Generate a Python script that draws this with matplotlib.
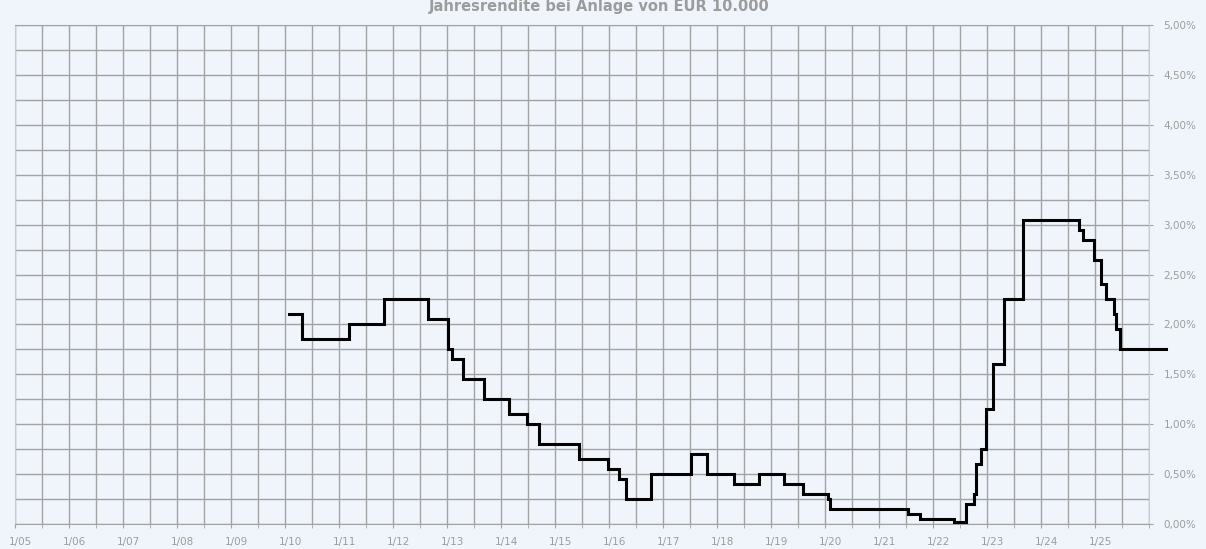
import matplotlib
matplotlib.use("Agg")
import matplotlib.pyplot as plt
import matplotlib.transforms as mtransforms
import numpy as np

# Step change dates (fractional years) and yield values (%)
change_years = [2010.07, 2010.32, 2011.19, 2011.84, 2012.65, 2013.01, 2013.10, 2013.29,
                2013.69, 2014.15, 2014.48, 2014.70, 2015.45, 2015.99, 2016.19, 2016.31,
                2016.77, 2017.52, 2017.81, 2018.31, 2018.78, 2019.24, 2019.60, 2020.06,
                2020.09, 2021.53, 2021.76, 2022.38, 2022.61, 2022.76, 2022.79, 2022.88,
                2022.99, 2023.11, 2023.31, 2023.67, 2024.70, 2024.78, 2024.98, 2025.12,
                2025.21, 2025.35, 2025.38, 2025.47, 2026.31]
yield_pct = [2.10, 1.85, 2.00, 2.25, 2.05, 1.75, 1.65, 1.45,
             1.25, 1.10, 1.00, 0.80, 0.65, 0.55, 0.45, 0.25,
             0.50, 0.70, 0.50, 0.40, 0.50, 0.40, 0.30, 0.25,
             0.15, 0.10, 0.05, 0.02, 0.20, 0.30, 0.60, 0.75,
             1.15, 1.60, 2.25, 3.05, 2.95, 2.85, 2.65, 2.40,
             2.25, 2.10, 1.95, 1.75, 1.75]

year_ticks = list(range(2005, 2026))
year_labels = ["1/%02d" % (y % 100) for y in year_ticks]
pct_ticks = [0.0, 0.5, 1.0, 1.5, 2.0, 2.5, 3.0, 3.5, 4.0, 4.5, 5.0]
pct_labels = ["0,00%", "0,50%", "1,00%", "1,50%", "2,00%", "2,50%",
              "3,00%", "3,50%", "4,00%", "4,50%", "5,00%"]
title = "Jahresrendite bei Anlage von EUR 10.000"

bg = "#F0F5FC"
grid_c = "#A3A3A3"
text_c = "#9C9C9C"

fig = plt.figure(figsize=(12.06, 5.49), dpi=100, facecolor=bg)
ax = fig.add_axes([15/1206, 25/549, (1149-15)/1206, (524-25)/549])
ax.set_facecolor(bg)

ax.step(change_years, yield_pct, where="post", color="black", lw=2.2,
        clip_on=False, zorder=5, solid_joinstyle="miter")

ax.set_xlim(2005, 2026)
ax.set_ylim(0, 5)

ax.set_xticks(year_ticks)
ax.set_xticklabels(year_labels)
ax.set_xticks(np.arange(2005.5, 2026.01, 0.5), minor=True)
ax.yaxis.tick_right()
ax.set_yticks(pct_ticks)
ax.set_yticklabels(pct_labels)
ax.set_yticks(np.arange(0.25, 5.0, 0.5), minor=True)

ax.grid(True, which="both", color=grid_c, lw=1.0)
ax.set_axisbelow(True)

ax.tick_params(axis="x", which="both", direction="out", length=3, color=grid_c,
               labelsize=7.5, labelcolor=text_c, pad=6.5)
ax.tick_params(axis="y", which="major", direction="out", length=3, color=grid_c,
               labelsize=7.5, labelcolor=text_c, pad=7.5)
ax.tick_params(axis="y", which="minor", length=0)

shift = mtransforms.ScaledTranslation(5/100, 0, fig.dpi_scale_trans)
for lab in ax.get_xticklabels():
    lab.set_transform(lab.get_transform() + shift)

ax.spines["top"].set_color(grid_c)
ax.spines["bottom"].set_color(grid_c)
ax.spines["left"].set_color("#CCCCCC")
ax.spines["right"].set_color("#CCCCCC")

fig.text(599/1206, 1 - 6/549, title, ha="center", va="center", fontsize=10.5,
         fontweight="bold", color=text_c)

fig.savefig("out.png", dpi=100, facecolor=bg)
